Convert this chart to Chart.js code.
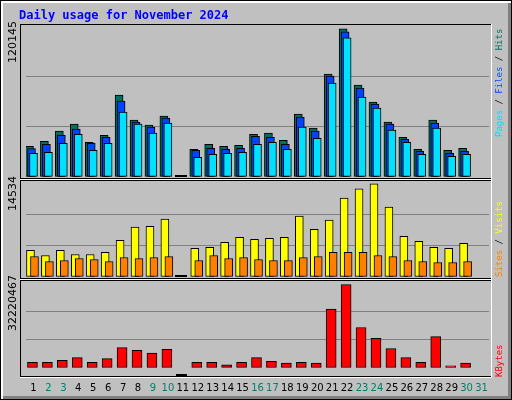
<!DOCTYPE html>
<html><head><meta charset="utf-8">
<script src="https://cdn.jsdelivr.net/npm/chart.js@4/dist/chart.umd.min.js"></script>
<style>
body{margin:0;background:#fff}
#wrap{position:relative;width:512px;height:400px}
canvas{position:absolute;left:0}
</style></head><body>
<div id="wrap">
<canvas id="bg" width="512" height="400" style="top:0"></canvas>
<div style="position:absolute;left:0;top:20px;width:512px;height:160px"><canvas id="c1"></canvas></div>
<div style="position:absolute;left:0;top:178px;width:512px;height:102px"><canvas id="c2"></canvas></div>
<div style="position:absolute;left:0;top:278px;width:512px;height:122px"><canvas id="c3"></canvas></div>
</div>
<script>
const days = Array.from({length:31},(_,i)=>String(i+1));
const weekend = ["2","3","9","10","16","17","23","24","30","31"];
const hits  = [24470,28460,36440,42030,27660,33250,65170,45220,41230,48410,0,22080,26070,24470,25270,34050,34850,29260,50010,38840,81930,117840,73150,59580,43620,31650,22080,45220,21280,22880,0];
const files = [22610,26070,33250,38040,26870,31650,60380,43620,39630,46820,0,21280,22880,22080,22880,32450,31650,26070,47610,36440,80330,115440,70760,57990,42030,30060,20480,42830,18890,20480,0];
const pages = [18890,19680,26870,34050,21280,26870,51600,42030,34850,42830,0,15690,18090,18890,19680,26070,27660,22080,39630,30860,74750,110660,63570,54800,37240,27660,18090,38840,16490,18090,0];
const visits= [4110,3330,4110,3480,3480,3800,5670,7700,7850,8940,0,4420,4580,5360,6140,5820,5980,6140,9410,7380,8790,12220,13620,14400,10820,6290,5510,4580,4420,5200,0];
const sites = [3170,2390,2550,2860,2700,2390,3020,2860,3020,3170,0,2550,3330,2860,3020,2700,2550,2550,3020,3170,3800,3800,3800,3330,3170,2550,2390,2240,2240,2390,0];
const kbytes= [2194000,2194000,2887000,3927000,2194000,3580000,7738000,6698000,5659000,7045000,0,2194000,2194000,1155000,2194000,3927000,2541000,1848000,2194000,1848000,22289000,31643000,15360000,11202000,7391000,3927000,2194000,11895000,808000,1848000,0];
const max1=120145, max2=14534, max3=32220467;

const g=document.getElementById('bg').getContext('2d');
g.fillStyle='#000';g.fillRect(0,0,512,400);
g.fillStyle='#fff';g.fillRect(1,1,510,398);
g.fillStyle='#808080';g.fillRect(3,3,508,396);
g.fillStyle='#c0c0c0';g.fillRect(3,3,505,393);
g.font='bold 12px "DejaVu Sans Mono"';g.fillStyle='#0000ff';g.textBaseline='alphabetic';
g.fillText('Daily usage for November 2024',19,19);
function frame(y1,y2){g.strokeStyle='#000';g.lineWidth=1;g.strokeRect(20.5,y1+0.5,471,y2-y1);
 g.strokeStyle='#fff';g.beginPath();g.moveTo(20,y2+1.5);g.lineTo(492,y2+1.5);g.moveTo(491.5,y1);g.lineTo(491.5,y2+1);g.stroke();}
frame(24,178);frame(180,278);frame(280,376);
// zero-day dash
g.fillStyle='#000';g.fillRect(175,175,12,2);g.fillRect(175,275,12,2);g.fillRect(176,374,11,2);
function vtext(x,y,parts){g.save();g.translate(x,y);g.rotate(-Math.PI/2);g.textAlign='left';g.textBaseline='middle';
 let cx=0;for(const [s,c] of parts){g.fillStyle=c;g.fillText(s,cx,0);cx+=g.measureText(s).width;}g.restore();}
g.font='11px "DejaVu Sans"';
vtext(13,63,[['120145','#000']]);
vtext(13,211,[['14534','#000']]);
vtext(13,331,[['32220467','#000']]);
g.font='9px "DejaVu Sans Mono"';
vtext(500,137,[['Pages','#00e0ff'],[' / ','#000'],['Files','#0050ff'],[' / ','#000'],['Hits','#007060']]);
vtext(500,277,[['Sites','#ff8000'],[' / ','#000'],['Visits','#ffff00']]);
vtext(500,377,[['KBytes','#ff0000']]);

const shift={id:'shift',afterDatasetsUpdate(ch){ch.data.datasets.forEach((d,i)=>{ch.getDatasetMeta(i).data.forEach(el=>{el.x+=d.dx;});});}};
function mk(id,sets,max,padTop,padBottom,showX){
 return new Chart(document.getElementById(id),{type:'bar',
  data:{labels:days,datasets:sets.map(s=>({data:s.data,backgroundColor:s.color,borderColor:'#000',borderWidth:1,borderSkipped:false,barThickness:s.w,grouped:false,dx:s.dx,order:s.order}))},
  plugins:[shift],
  options:{responsive:true,maintainAspectRatio:false,animation:false,
   layout:{padding:{left:26,right:23,top:padTop,bottom:padBottom}},
   plugins:{legend:{display:false},tooltip:{enabled:false}},
   scales:{
    x:{display:showX,grid:{display:false},border:{display:false},
       ticks:{color:c=>weekend.includes(days[c.index])?'#00806a':'#000',font:{family:'DejaVu Sans',size:10},padding:6,maxRotation:0,autoSkip:false}},
    y:{min:0,max:max,afterFit:s=>{s.width=0;},border:{display:false},ticks:{display:false,stepSize:max/3},
       grid:{color:c=>(c.tick.value>0&&c.tick.value<max-1)?'#808080':'rgba(0,0,0,0)',drawTicks:false,lineWidth:1}}
   }}});
}
mk('c1',[{data:hits,color:'#007058',w:8,dx:-4,order:3},{data:files,color:'#0044ff',w:8,dx:-2,order:2},{data:pages,color:'#00e0ff',w:8,dx:0,order:1}],max1,6,3,false);
mk('c2',[{data:visits,color:'#ffff00',w:8,dx:-3,order:2},{data:sites,color:'#ff8000',w:8,dx:1,order:1}],max2,5,3,false);
mk('c3',[{data:kbytes,color:'#ff0000',w:10,dx:-1,order:1}],max3,5,0,true);
</script></body></html>
